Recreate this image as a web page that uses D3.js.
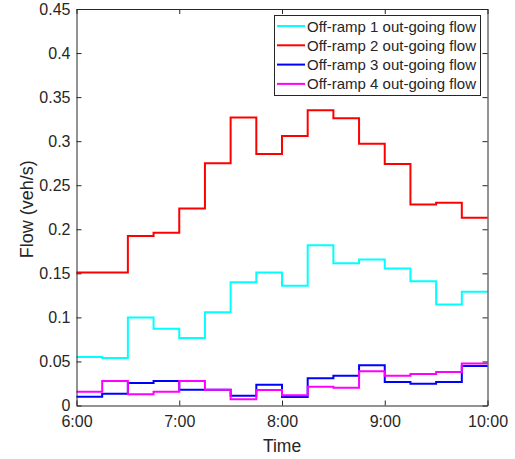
<!DOCTYPE html>
<html><head><meta charset="utf-8">
<script src="https://cdn.jsdelivr.net/npm/d3@7"></script>
<style>body{margin:0;background:#fff}svg{display:block}text{font-family:"Liberation Sans",Arial,sans-serif;fill:#262626}</style>
</head><body><svg id="c" width="515" height="459"></svg>
<script>
// interval start times in hours (15-min bins, 6:00-10:00)
const binStarts = [6,6.25,6.5,6.75,7,7.25,7.5,7.75,8,8.25,8.5,8.75,9,9.25,9.5,9.75];
const xTickValues = [6,7,8,9,10];
const xTickLabels = ["6:00","7:00","8:00","9:00","10:00"];
const yTickValues = [0,0.05,0.1,0.15,0.2,0.25,0.3,0.35,0.4,0.45];
const seriesNames = ["Off-ramp 1 out-going flow","Off-ramp 2 out-going flow","Off-ramp 3 out-going flow","Off-ramp 4 out-going flow"];
const seriesColors = ["#00FFFF","#FF0000","#0000FF","#FF00FF"];
const ramp1 = [0.055,0.054,0.100,0.087,0.0765,0.1057,0.140,0.151,0.136,0.182,0.1615,0.1657,0.1555,0.141,0.1147,0.129];
const ramp2 = [0.151,0.151,0.1925,0.196,0.2236,0.275,0.327,0.2855,0.306,0.335,0.326,0.297,0.274,0.228,0.230,0.213];
const ramp3 = [0.010,0.0134,0.0255,0.0278,0.018,0.018,0.011,0.0236,0.0097,0.031,0.0338,0.0456,0.0266,0.0247,0.0266,0.0448];
const ramp4 = [0.0157,0.0278,0.0127,0.0157,0.0278,0.018,0.007,0.0176,0.0115,0.0213,0.0202,0.039,0.0338,0.0357,0.038,0.0478];
const seriesValues = [ramp1,ramp2,ramp3,ramp4];

const svg = d3.select("#c");
const L=76.5, R=487.5, T=9, B=405.5;
const x = d3.scaleLinear().domain([6,10]).range([L,R]);
const y = d3.scaleLinear().domain([0,0.45]).range([B,T]);
const axisColor="#262626";

// series
const line = d3.line().x(d=>x(d[0])).y(d=>y(d[1])).curve(d3.curveStepAfter);
seriesValues.forEach((vals,i)=>{
  const pts = binStarts.map((t,j)=>[t,vals[j]]);
  pts.push([10, vals[vals.length-1]]);
  svg.append("path").attr("d",line(pts)).attr("fill","none")
    .attr("stroke",seriesColors[i]).attr("stroke-width",2);
});

// axes
const fmtX = d=>xTickLabels[xTickValues.indexOf(d)];
const gx = svg.append("g").attr("transform",`translate(0,${B})`)
  .call(d3.axisBottom(x).tickValues(xTickValues).tickFormat(fmtX).tickSizeInner(-5).tickSizeOuter(0).tickPadding(10));
const gxt = svg.append("g").attr("transform",`translate(0,${T})`)
  .call(d3.axisTop(x).tickValues(xTickValues).tickFormat("").tickSizeInner(-5).tickSizeOuter(0));
const gy = svg.append("g").attr("transform",`translate(${L},0)`)
  .call(d3.axisLeft(y).tickValues(yTickValues).tickFormat(d=>d===0?"0":String(+d.toFixed(2))).tickSizeInner(-5).tickSizeOuter(0).tickPadding(6));
const gyr = svg.append("g").attr("transform",`translate(${R},0)`)
  .call(d3.axisRight(y).tickValues(yTickValues).tickFormat("").tickSizeInner(-5).tickSizeOuter(0));
[gx,gxt,gy,gyr].forEach(g=>{
  g.selectAll("path").attr("stroke",axisColor).attr("stroke-width",1);
  g.selectAll("line").attr("stroke",axisColor).attr("stroke-width",1);
  g.selectAll("text").attr("fill",axisColor).style("font-size","16px").style("font-family",'"Liberation Sans",Arial,sans-serif');
});

svg.append("text").attr("x",(L+R)/2).attr("y",452).attr("text-anchor","middle").style("font-size","17.5px").text("Time");
svg.append("text").attr("transform",`translate(33,${(T+B)/2+2}) rotate(-90)`).attr("text-anchor","middle").style("font-size","18px").text("Flow (veh/s)");

// legend
const lg = svg.append("g");
lg.append("rect").attr("x",274.5).attr("y",15.5).attr("width",206).attr("height",80)
  .attr("fill","#fff").attr("stroke",axisColor).attr("stroke-width",1);
seriesNames.forEach((n,i)=>{
  const yy = 26 + i*19.3;
  lg.append("line").attr("x1",277).attr("x2",305).attr("y1",yy).attr("y2",yy)
    .attr("stroke",seriesColors[i]).attr("stroke-width",2);
  lg.append("text").attr("x",307).attr("y",yy+5.5).style("font-size","15px").text(n);
});
</script></body></html>
